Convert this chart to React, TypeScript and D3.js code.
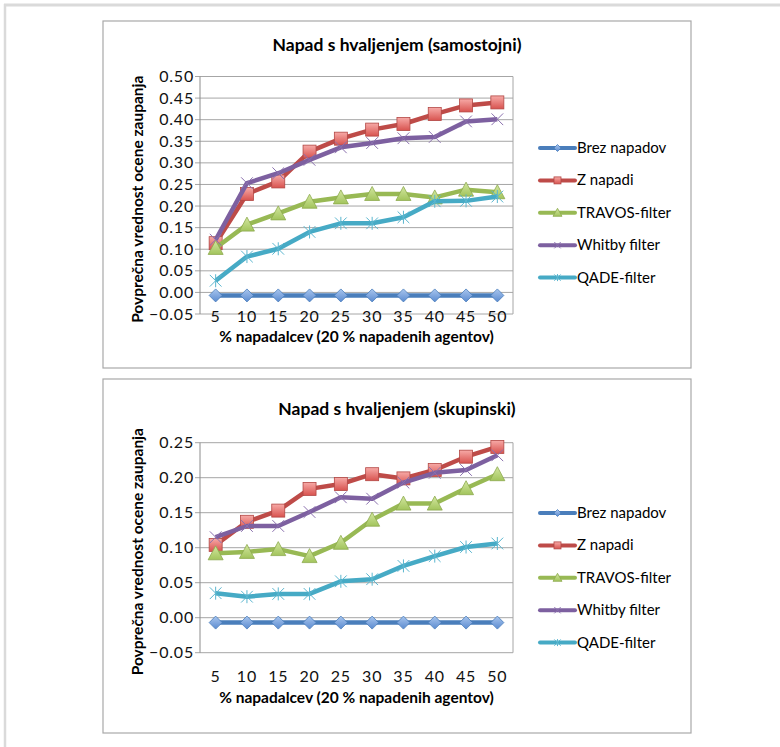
import React from 'react';
import * as d3 from 'd3';

// Categories on the horizontal axis (% of attackers)
const categories = ['5', '10', '15', '20', '25', '30', '35', '40', '45', '50'];
const seriesNames = ['Brez napadov', 'Z napadi', 'TRAVOS-filter', 'Whitby filter', 'QADE-filter'];

// Chart 1: Napad s hvaljenjem (samostojni)
const soloBrez = [-0.007, -0.007, -0.007, -0.007, -0.007, -0.007, -0.007, -0.007, -0.007, -0.007];
const soloZ = [0.114, 0.228, 0.257, 0.326, 0.356, 0.377, 0.39, 0.413, 0.433, 0.44];
const soloTravos = [0.103, 0.157, 0.183, 0.21, 0.22, 0.228, 0.228, 0.22, 0.238, 0.232];
const soloWhitby = [0.122, 0.253, 0.276, 0.307, 0.336, 0.346, 0.357, 0.36, 0.396, 0.401];
const soloQade = [0.027, 0.083, 0.101, 0.14, 0.16, 0.16, 0.174, 0.211, 0.212, 0.222];
const soloTicks = [-0.05, 0, 0.05, 0.1, 0.15, 0.2, 0.25, 0.3, 0.35, 0.4, 0.45, 0.5];

// Chart 2: Napad s hvaljenjem (skupinski)
const grpBrez = [-0.007, -0.007, -0.007, -0.007, -0.007, -0.007, -0.007, -0.007, -0.007, -0.007];
const grpZ = [0.104, 0.137, 0.153, 0.184, 0.191, 0.205, 0.199, 0.211, 0.23, 0.244];
const grpTravos = [0.092, 0.094, 0.098, 0.088, 0.107, 0.14, 0.163, 0.163, 0.185, 0.205];
const grpWhitby = [0.115, 0.131, 0.131, 0.151, 0.172, 0.17, 0.193, 0.207, 0.211, 0.232];
const grpQade = [0.035, 0.03, 0.034, 0.034, 0.052, 0.055, 0.074, 0.088, 0.101, 0.106];
const grpTicks = [-0.05, 0, 0.05, 0.1, 0.15, 0.2, 0.25];

const FONT = 'Lato, "Open Sans", sans-serif';

type MarkerKind = 'diamond' | 'square' | 'triangle' | 'cross' | 'star';

const styles: { line: string; marker: MarkerKind; fill: string; stroke: string }[] = [
  { line: '#4A7EBB', marker: 'diamond', fill: 'url(#gBlue)', stroke: '#4A7EBB' },
  { line: '#BE4B48', marker: 'square', fill: 'url(#gRed)', stroke: '#B24744' },
  { line: '#98B954', marker: 'triangle', fill: 'url(#gGreen)', stroke: '#8DAA4E' },
  { line: '#7D60A0', marker: 'cross', fill: 'none', stroke: '#8A70AE' },
  { line: '#46AAC5', marker: 'star', fill: 'none', stroke: '#5BB6CF' },
];

function Marker({ kind, x, y, s, fill, stroke }: { kind: MarkerKind; x: number; y: number; s: number; fill: string; stroke: string }) {
  const h = s / 2;
  if (kind === 'diamond') {
    return <path d={`M${x},${y - h}L${x + h},${y}L${x},${y + h}L${x - h},${y}Z`} fill={fill} stroke={stroke} strokeWidth={0.8} />;
  }
  if (kind === 'square') {
    return <rect x={x - h} y={y - h} width={s} height={s} fill={fill} stroke={stroke} strokeWidth={0.8} />;
  }
  if (kind === 'triangle') {
    return <path d={`M${x},${y - h - 1}L${x + h + 1},${y + h}L${x - h - 1},${y + h}Z`} fill={fill} stroke={stroke} strokeWidth={0.8} />;
  }
  const c = h * 0.9;
  const cross = `M${x - c},${y - c}L${x + c},${y + c}M${x - c},${y + c}L${x + c},${y - c}`;
  if (kind === 'cross') {
    return <path d={cross} fill="none" stroke={stroke} strokeWidth={1} />;
  }
  return <path d={`${cross}M${x},${y - h}L${x},${y + h}`} fill="none" stroke={stroke} strokeWidth={1} />;
}

type ChartProps = {
  title: string;
  box: { x: number; y: number; w: number; h: number };
  titleY: number;
  plotTop: number;
  plotBottom: number;
  yMax: number;
  ticks: number[];
  series: number[][];
  xLabelY: number;
  xTitleY: number;
  legendY: number;
};

function LineChart({ title, box, titleY, plotTop, plotBottom, yMax, ticks, series, xLabelY, xTitleY, legendY }: ChartProps) {
  const plotLeft = 200;
  const plotRight = 513;
  const x = d3.scaleBand<string>().domain(categories).range([plotLeft, plotRight]).padding(0);
  const y = d3.scaleLinear().domain([-0.05, yMax]).range([plotBottom, plotTop]);
  const cx = (c: string) => (x(c) as number) + x.bandwidth() / 2;
  const line = d3
    .line<number>()
    .x((_, i) => cx(categories[i]))
    .y((v) => y(v));
  const fmt = d3.format('.2f');
  const legendStep = 32.4;

  return (
    <g>
      <rect x={box.x} y={box.y} width={box.w} height={box.h} fill="#fff" stroke="#a8a8a8" strokeWidth={1.2} />
      <text x={397} y={titleY} textAnchor="middle" fontFamily={FONT} fontWeight="bold" fontSize={17.5} fill="#000">
        {title}
      </text>
      {/* gridlines */}
      {ticks.map((t) => (
        <line key={t} x1={plotLeft - 5} x2={plotRight} y1={y(t)} y2={y(t)} stroke="#a6a6a6" strokeWidth={1} />
      ))}
      <line x1={plotRight} x2={plotRight} y1={plotTop} y2={plotBottom} stroke="#a6a6a6" strokeWidth={1} />
      <line x1={plotLeft} x2={plotLeft} y1={plotTop} y2={plotBottom} stroke="#8c8c8c" strokeWidth={1} />
      {/* y tick labels */}
      {ticks.map((t) => (
        <text key={t} x={194} y={y(t) + 5.5} textAnchor="end" fontFamily={FONT} fontSize={16} fill="#111" letterSpacing={0.8}>
          {fmt(t)}
        </text>
      ))}
      {/* x tick labels */}
      {categories.map((c) => (
        <text key={c} x={cx(c)} y={xLabelY} textAnchor="middle" fontFamily={FONT} fontSize={16} fill="#111" letterSpacing={0.8}>
          {c}
        </text>
      ))}
      <text x={(plotLeft + plotRight) / 2} y={xTitleY} textAnchor="middle" fontFamily={FONT} fontWeight="bold" fontSize={15.5} fill="#000">
        % napadalcev (20 % napadenih agentov)
      </text>
      <text
        transform={`translate(143,${(plotTop + plotBottom) / 2 + 4}) rotate(-90)`}
        textAnchor="middle"
        fontFamily={FONT}
        fontWeight="bold"
        fontSize={15.5}
        fill="#000"
      >
        Povprečna vrednost ocene zaupanja
      </text>
      {/* series */}
      {series.map((vals, si) => (
        <g key={si}>
          <path d={line(vals) || ''} fill="none" stroke={styles[si].line} strokeWidth={4.5} strokeLinejoin="round" />
          {vals.map((v, i) => (
            <Marker key={i} kind={styles[si].marker} x={cx(categories[i])} y={y(v)} s={13} fill={styles[si].fill} stroke={styles[si].stroke} />
          ))}
        </g>
      ))}
      {/* legend */}
      {seriesNames.map((name, si) => {
        const ly = legendY + si * legendStep;
        return (
          <g key={name}>
            <line x1={540} x2={575} y1={ly} y2={ly} stroke={styles[si].line} strokeWidth={4} strokeLinecap="round" />
            <Marker kind={styles[si].marker} x={557.5} y={ly} s={7} fill={styles[si].fill} stroke={styles[si].stroke} />
            <text x={577} y={ly + 5} fontFamily={FONT} fontSize={15} fill="#000">
              {name}
            </text>
          </g>
        );
      })}
    </g>
  );
}

export default function App() {
  return (
    <svg width={780} height={747} style={{ position: 'absolute', left: 0, top: 0, background: '#fff' }}>
      <defs>
        <linearGradient id="gBlue" x1="0" y1="0" x2="0" y2="1">
          <stop offset="0" stopColor="#A9C6EE" />
          <stop offset="1" stopColor="#5B8BD0" />
        </linearGradient>
        <linearGradient id="gRed" x1="0" y1="0" x2="0" y2="1">
          <stop offset="0" stopColor="#F7AAA7" />
          <stop offset="1" stopColor="#D8534F" />
        </linearGradient>
        <linearGradient id="gGreen" x1="0" y1="0" x2="0" y2="1">
          <stop offset="0" stopColor="#D3E7A0" />
          <stop offset="1" stopColor="#A2C45C" />
        </linearGradient>
      </defs>
      {/* page frame */}
      <line x1={4} x2={780} y1={5} y2={5} stroke="#dadada" strokeWidth={3} />
      <line x1={5} x2={5} y1={4} y2={747} stroke="#dadada" strokeWidth={2.5} />
      <LineChart
        title="Napad s hvaljenjem (samostojni)"
        box={{ x: 103, y: 21, w: 588, h: 347 }}
        titleY={51}
        plotTop={76.5}
        plotBottom={314}
        yMax={0.5}
        ticks={soloTicks}
        series={[soloBrez, soloZ, soloTravos, soloWhitby, soloQade]}
        xLabelY={322}
        xTitleY={342}
        legendY={148}
      />
      <LineChart
        title="Napad s hvaljenjem (skupinski)"
        box={{ x: 103, y: 379, w: 588, h: 354 }}
        titleY={415}
        plotTop={442.7}
        plotBottom={652.7}
        yMax={0.25}
        ticks={grpTicks}
        series={[grpBrez, grpZ, grpTravos, grpWhitby, grpQade]}
        xLabelY={682}
        xTitleY={703}
        legendY={513}
      />
    </svg>
  );
}
